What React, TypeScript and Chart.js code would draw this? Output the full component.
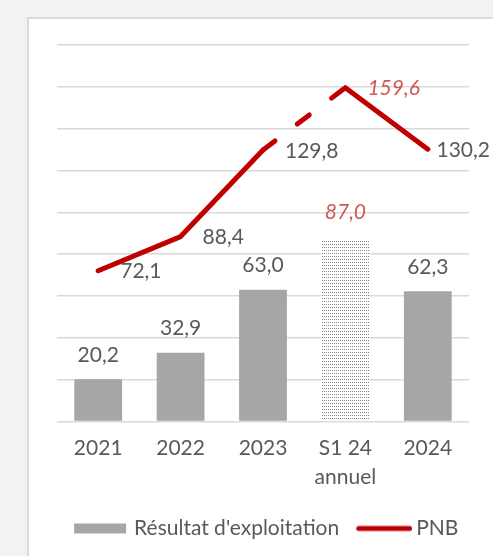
import React, { useEffect, useRef } from 'react';
import { Chart, registerables } from 'chart.js';

Chart.register(...registerables);

// ---- data ----
const categories: (string | string[])[] = ['2021', '2022', '2023', ['S1 24', 'annuel'], '2024'];
const resultatExploitation = [20.2, 32.9, 63.0, 87.0, 62.3];
const pnb = [72.1, 88.4, 129.8, 159.6, 130.2];
const seriesNames = ["Résultat d'exploitation", 'PNB'];
const estimatedIndex = 3; // "S1 24 annuel" : annualised estimate
const yMin = 0;
const yMax = 180;
const yStep = 20;

const FONT = 'Lato';
const TEXT = '#595959';
const EST_TEXT = '#cf5858';
const BAR = '#a6a6a6';
const LINE = '#c00000';

const fmt = (v: number) => v.toFixed(1).replace('.', ',');

function makeDotPattern(ctx: CanvasRenderingContext2D) {
  const c = document.createElement('canvas');
  c.width = 2;
  c.height = 3;
  const g = c.getContext('2d')!;
  g.fillStyle = '#ffffff';
  g.fillRect(0, 0, 2, 3);
  g.fillStyle = '#858585';
  g.fillRect(0, 1, 1, 1);
  return ctx.createPattern(c, 'repeat');
}

function legendImage(kind: 'bar' | 'line') {
  const c = document.createElement('canvas');
  c.width = 69;
  c.height = 12;
  const g = c.getContext('2d')!;
  if (kind === 'bar') {
    g.fillStyle = BAR;
    g.fillRect(13, 1, 52, 10);
  } else {
    g.strokeStyle = LINE;
    g.lineWidth = 5;
    g.lineCap = 'round';
    g.beginPath();
    g.moveTo(15.5, 6);
    g.lineTo(66.5, 6);
    g.stroke();
  }
  return c;
}

const valueLabels = {
  id: 'valueLabels',
  afterDatasetsDraw(chart: any) {
    const ctx: CanvasRenderingContext2D = chart.ctx;
    ctx.save();
    chart.data.datasets.forEach((ds: any, di: number) => {
      const meta = chart.getDatasetMeta(di);
      meta.data.forEach((el: any, i: number) => {
        const v = ds.data[i] as number;
        const est = i === estimatedIndex;
        ctx.font = `${est ? 'italic ' : ''}21px ${FONT}`;
        ctx.fillStyle = est ? EST_TEXT : TEXT;
        ctx.textBaseline = 'middle';
        const txt = fmt(v);
        if (meta.type === 'bar') {
          ctx.textAlign = 'center';
          ctx.fillText(txt, el.x, el.y - (est ? 27 : 24));
        } else {
          const w = ctx.measureText(txt).width;
          let x = el.x + 22;
          if (x + w > chart.width - 3) x = chart.width - 3 - w;
          ctx.textAlign = 'left';
          ctx.fillText(txt, x, el.y + 1);
        }
      });
    });
    ctx.restore();
  },
};

export default function App() {
  const ref = useRef<HTMLCanvasElement>(null);

  useEffect(() => {
    const canvas = ref.current!;
    const ctx = canvas.getContext('2d')!;
    const pattern = makeDotPattern(ctx);
    const barColors = resultatExploitation.map((_, i) => (i === estimatedIndex ? pattern : BAR));
    const barImg = legendImage('bar');
    const lineImg = legendImage('line');

    const chart = new Chart(ctx, {
      type: 'bar',
      data: {
        labels: categories,
        datasets: [
          {
            type: 'bar',
            label: seriesNames[0],
            data: resultatExploitation,
            backgroundColor: barColors as any,
            borderWidth: 0,
            barPercentage: 0.58,
            categoryPercentage: 1,
            order: 1,
          },
          {
            type: 'line',
            label: seriesNames[1],
            data: pnb,
            borderColor: LINE,
            borderWidth: 5,
            borderCapStyle: 'round',
            borderJoinStyle: 'round',
            pointRadius: 0,
            tension: 0,
            order: 0,
            segment: {
              borderDash: (c: any) => (c.p1DataIndex === estimatedIndex ? [15, 28] : undefined),
            },
          } as any,
        ],
      },
      options: {
        animation: false,
        responsive: true,
        maintainAspectRatio: false,
        layout: { padding: { left: 57, right: 24, top: 45, bottom: 7 } },
        scales: {
          x: {
            grid: { display: false },
            border: { display: false },
            ticks: {
              color: TEXT,
              font: { family: FONT, size: 21, lineHeight: 1.38 },
              padding: 4,
              maxRotation: 0,
              autoSkip: false,
            },
            afterFit: (scale: any) => {
              scale.height = 86;
            },
          },
          y: {
            min: yMin,
            max: yMax,
            ticks: { display: false, stepSize: yStep },
            grid: { color: '#d9d9d9', lineWidth: 1.6, drawTicks: false },
            border: { display: false },
          },
        },
        plugins: {
          tooltip: { enabled: false },
          legend: {
            position: 'bottom',
            labels: {
              usePointStyle: true,
              pointStyleWidth: 56,
              boxHeight: 10,
              padding: 10.5,
              color: TEXT,
              font: { family: FONT, size: 21 },
              generateLabels: () => [
                { text: seriesNames[0], pointStyle: barImg as any, fillStyle: BAR, strokeStyle: BAR, lineWidth: 0, hidden: false, datasetIndex: 0, fontColor: TEXT },
                { text: seriesNames[1], pointStyle: lineImg as any, fillStyle: LINE, strokeStyle: LINE, lineWidth: 0, hidden: false, datasetIndex: 1, fontColor: TEXT },
              ],
            },
          },
        },
      },
      plugins: [valueLabels],
    });
    return () => chart.destroy();
  }, []);

  return (
    <div style={{ position: 'fixed', left: 0, top: 0, width: 493, height: 556, background: '#f2f2f2', overflow: 'hidden' }}>
      <div
        style={{
          position: 'absolute',
          left: 27,
          top: 17,
          width: 490,
          height: 560,
          background: '#ffffff',
          border: '2px solid #d9d9d9',
          boxSizing: 'border-box',
        }}
      />
      <div style={{ position: 'absolute', left: 0, top: 0, width: 493, height: 556 }}>
        <canvas ref={ref} />
      </div>
    </div>
  );
}
